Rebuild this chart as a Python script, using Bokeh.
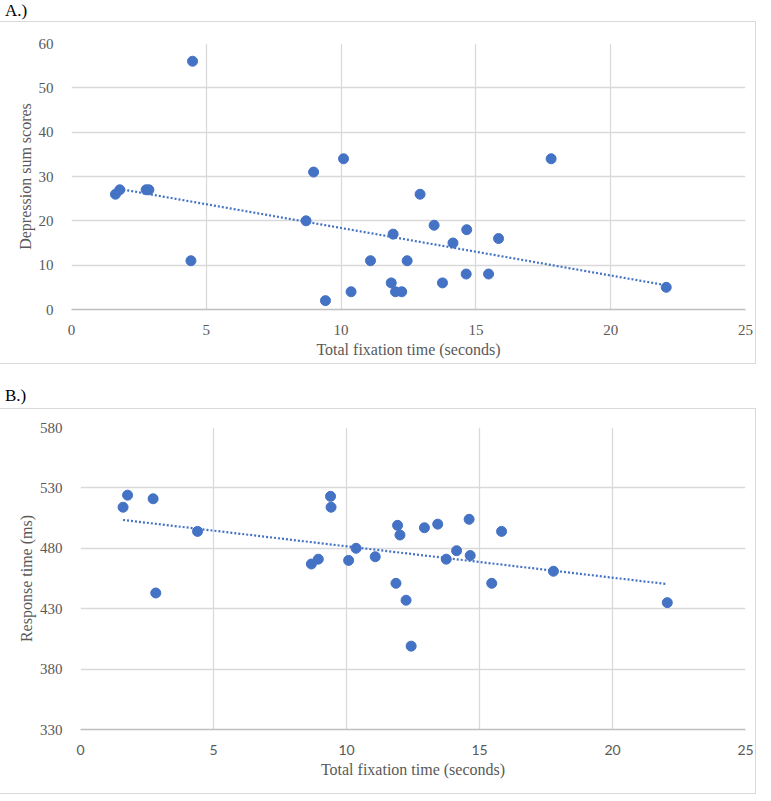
import numpy as np
from bokeh.plotting import figure
from bokeh.layouts import column
from bokeh.models import Div, Spacer, Range1d, FixedTicker
from bokeh.embed import file_html
from bokeh.resources import INLINE

# ---- Data ----
panel_a_label = "A.)"
panel_b_label = "B.)"
x_label = "Total fixation time (seconds)"
a_y_label = "Depression sum scores"
b_y_label = "Response time (ms)"

a_fix = [4.49, 10.09, 17.79, 8.98, 1.63, 1.79, 2.77, 2.87, 12.93, 8.70, 13.45,
         14.66, 11.93, 15.84, 14.15, 4.43, 11.09, 12.45, 14.64, 15.47, 11.86,
         13.76, 22.06, 10.37, 12.02, 12.25, 9.42]
a_dep = [56, 34, 34, 31, 26, 27, 27, 27, 26, 20, 19,
         18, 17, 16, 15, 11, 11, 11, 8, 8, 6,
         6, 5, 4, 4, 4, 2]

b_fix = [1.60, 1.77, 2.73, 2.83, 4.40, 9.40, 9.42, 8.68, 8.94, 10.08, 10.36,
         11.08, 11.92, 12.01, 11.86, 12.24, 12.43, 12.93, 13.43, 13.75, 14.14,
         14.61, 14.65, 15.83, 15.46, 17.78, 22.06]
b_rt = [514, 524, 521, 443, 494, 523, 514, 467, 471, 470, 480,
        473, 499, 491, 451, 437, 399, 497, 500, 471, 478,
        504, 474, 494, 451, 461, 435]

x_ticks = [0, 5, 10, 15, 20, 25]
a_y_ticks = [0, 10, 20, 30, 40, 50, 60]
b_y_ticks = [330, 380, 430, 480, 530, 580]

BLUE = "#4472C4"
GRID = "#d9d9d9"
TXT = "#595959"
SERIF = "Liberation Serif"
BOX = {"outline": "1px solid #d9d9d9"}
W = 755


def make_panel(xs, ys, yticks, ylabel, left, fh, top, bottom, xtick_font, ylab_standoff):
    right = 10
    p = figure(frame_width=W - left - right, frame_height=fh,
               output_backend="svg", toolbar_location=None,
               x_range=Range1d(x_ticks[0], x_ticks[-1]),
               y_range=Range1d(yticks[0], yticks[-1]),
               min_border_left=left, min_border_right=right,
               min_border_top=top, min_border_bottom=bottom,
               background_fill_color="white", border_fill_color="white",
               outline_line_color=None)
    p.styles = BOX
    p.xaxis.ticker = FixedTicker(ticks=x_ticks)
    p.yaxis.ticker = FixedTicker(ticks=yticks)
    for g in (p.xgrid, p.ygrid):
        g.grid_line_color = GRID
        g.grid_line_width = 1.3
    for ax in (p.xaxis, p.yaxis):
        ax.major_tick_line_color = None
        ax.minor_tick_line_color = None
        ax.major_label_text_color = TXT
        ax.axis_label_text_color = TXT
        ax.axis_label_text_font = SERIF
        ax.axis_label_text_font_style = "normal"
        ax.axis_label_text_font_size = "16px"
    p.yaxis.axis_line_color = None
    p.xaxis.axis_line_color = "#bfbfbf"
    p.xaxis.axis_line_width = 1.5
    p.yaxis.major_label_text_font = SERIF
    p.yaxis.major_label_text_font_size = "15px"
    p.xaxis.major_label_text_font = xtick_font
    p.xaxis.major_label_text_font_size = "14px" if xtick_font == "Lato" else "15px"
    p.xaxis.major_label_standoff = 9
    p.yaxis.major_label_standoff = 12
    p.xaxis.axis_label = x_label
    p.yaxis.axis_label = ylabel
    p.xaxis.axis_label_standoff = 3
    p.yaxis.axis_label_standoff = ylab_standoff

    # linear trendline (least squares), over the data's x extent
    xa = np.array(xs, dtype=float)
    ya = np.array(ys, dtype=float)
    slope, icpt = np.polyfit(xa, ya, 1)
    tx = np.array([xa.min(), xa.max()])
    p.line(tx, slope * tx + icpt, line_color=BLUE, line_width=2.2, line_dash="2 2")
    p.scatter(xs, ys, size=10, fill_color=BLUE, line_color=BLUE)
    return p


pa = make_panel(a_fix, a_dep, a_y_ticks, a_y_label, 71, 266, 21, 54, SERIF, 2)
pb = make_panel(b_fix, b_rt, b_y_ticks, b_y_label, 80, 302, 18, 64, "Lato", 2)

lab_style = {"font-family": "'Liberation Serif'", "font-size": "17px", "color": "#000000",
             "line-height": "12px"}
div_a = Div(text=panel_a_label, width=W, height=12, styles=lab_style)
div_b = Div(text=panel_b_label, width=W, height=14, styles=lab_style)

top_block = column(div_a, pa, spacing=0)
bottom_block = column(Spacer(height=22), div_b, pb, spacing=0)

open("out.html", "w").write(file_html([top_block, bottom_block], INLINE))
